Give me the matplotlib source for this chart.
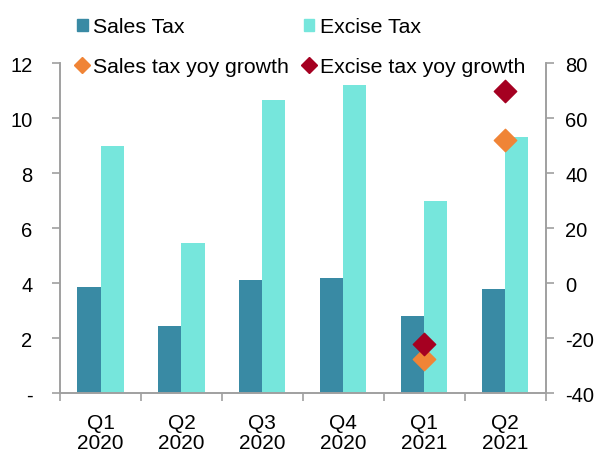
import matplotlib.pyplot as plt
import numpy as np
from matplotlib.lines import Line2D
from matplotlib.patches import Patch

plt.rcParams["font.family"] = ["Liberation Sans", "DejaVu Sans"]

quarters = ["Q1\n2020", "Q2\n2020", "Q3\n2020", "Q4\n2020", "Q1\n2021", "Q2\n2021"]
sales_tax = [3.85, 2.46, 4.1, 4.2, 2.8, 3.77]
excise_tax = [9.0, 5.47, 10.65, 11.2, 7.0, 9.3]

growth_quarters = [4, 5]
sales_growth = [-27.5, 52]
excise_growth = [-22, 70]

left_ticks = list(range(0, 13, 2))
left_labels = ["-"] + [str(v) for v in range(2, 13, 2)]
right_ticks = list(range(-40, 81, 20))
right_labels = [str(v) for v in right_ticks]  # plain hyphen, not unicode minus

SALES_COLOR = "#398AA4"
EXCISE_COLOR = "#76E6DC"
SALES_G_COLOR = "#F08436"
EXCISE_G_COLOR = "#A50021"
AXIS_COLOR = "#A0A0A0"

fig = plt.figure(figsize=(5.95, 4.52), dpi=100)
ax = fig.add_axes([0.101, 0.128, 0.816, 0.730])
ax2 = ax.twinx()

x = np.arange(len(quarters))
w = 0.285
ax.bar(x - w / 2, sales_tax, w, color=SALES_COLOR, zorder=2)
ax.bar(x + w / 2, excise_tax, w, color=EXCISE_COLOR, zorder=2)

ax2.scatter(growth_quarters, sales_growth, marker="D", s=130, color=SALES_G_COLOR, zorder=3)
ax2.scatter(growth_quarters, excise_growth, marker="D", s=130, color=EXCISE_G_COLOR, zorder=3)

ax.set_xlim(-0.5, len(quarters) - 0.5)
ax.set_ylim(0, 12)
ax2.set_ylim(-40, 80)

ax.set_yticks(left_ticks)
ax.set_yticklabels(left_labels)
ax2.set_yticks(right_ticks)
ax2.set_yticklabels(right_labels)

ax.set_xticks(x)
ax.set_xticklabels(quarters, linespacing=1.1)
ax.set_xticks(np.arange(-0.5, len(quarters), 1), minor=True)
ax.tick_params(axis="x", which="major", length=0, pad=14)
ax.tick_params(axis="x", which="minor", length=6, color=AXIS_COLOR, width=1.2)

for a in (ax, ax2):
    a.tick_params(axis="y", length=6, color=AXIS_COLOR, width=1.2, labelsize=14.5)
    a.tick_params(axis="x", labelsize=15)
    a.spines["top"].set_visible(False)
    for s in ("left", "right", "bottom"):
        a.spines[s].set_color(AXIS_COLOR)
        a.spines[s].set_linewidth(1.2)
ax.tick_params(axis="y", pad=14)
ax2.tick_params(axis="y", pad=8)

handles = [
    Patch(color=SALES_COLOR),
    Line2D([], [], marker="D", linestyle="", color=SALES_G_COLOR, markersize=8),
    Patch(color=EXCISE_COLOR),
    Line2D([], [], marker="D", linestyle="", color=EXCISE_G_COLOR, markersize=8),
]
labels = ["Sales Tax", "Sales tax yoy growth", "Excise Tax", "Excise tax yoy growth"]
fig.legend(handles, labels, ncol=2, loc="upper left", bbox_to_anchor=(0.115, 0.978),
           frameon=False, fontsize=15.3, handlelength=0.5, handleheight=0.5,
           handletextpad=0.25, columnspacing=0.7, labelspacing=0.95, borderaxespad=0)

fig.savefig("out.png", dpi=100)
